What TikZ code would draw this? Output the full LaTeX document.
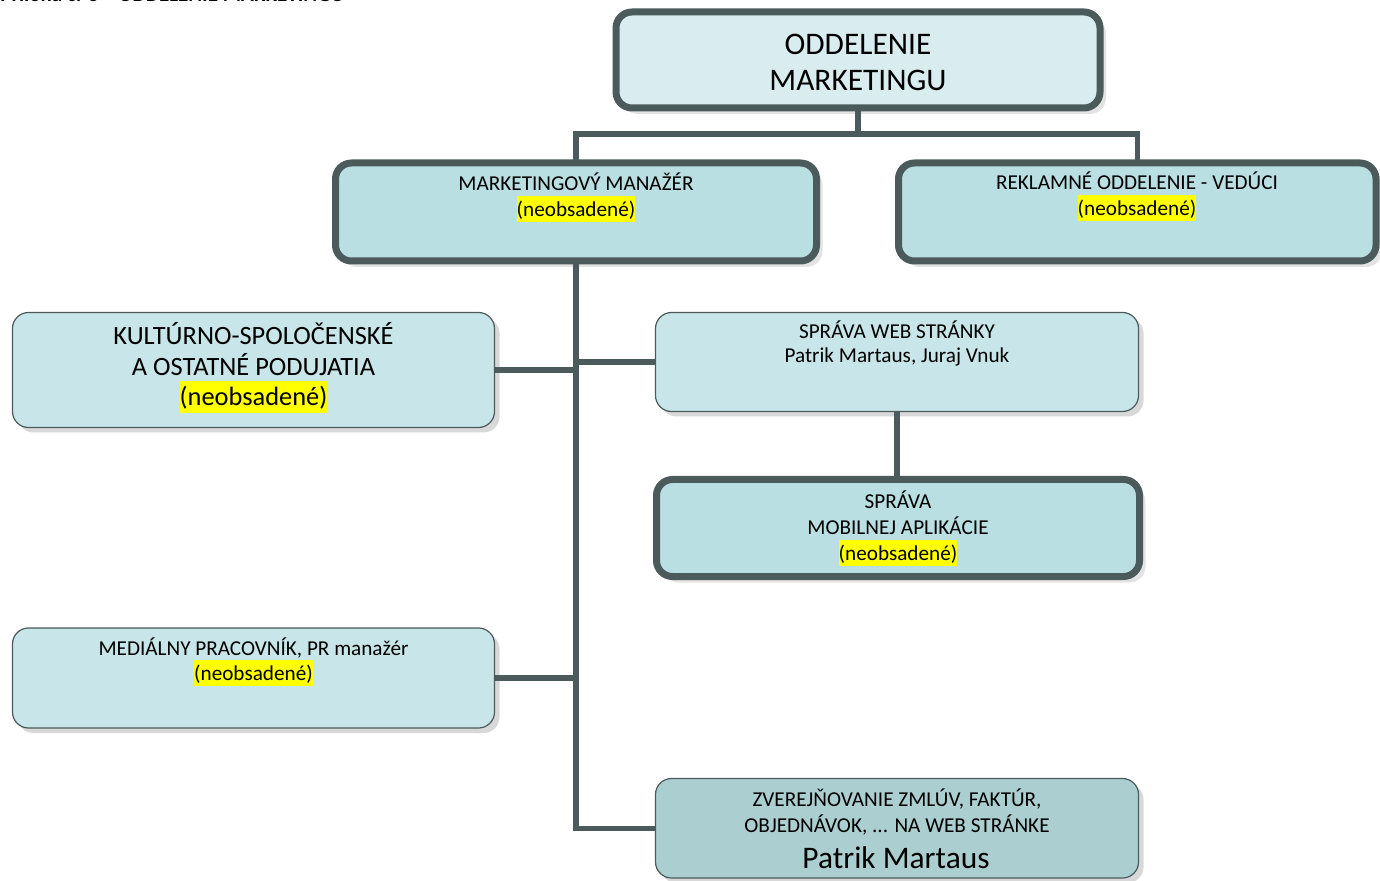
\documentclass[tikz,border=0pt]{standalone}
\usepackage{fontspec}
\setmainfont{Carlito}
\usetikzlibrary{shadows}
\definecolor{bord}{HTML}{4B5A5A}
\definecolor{fillTop}{HTML}{D9EDF0}
\definecolor{fillMain}{HTML}{B9DFE3}
\definecolor{fillThin}{HTML}{C8E6E9}
\definecolor{fillDark}{HTML}{ABCFD1}
\definecolor{hlyellow}{HTML}{FFFF00}
\newcommand\hlt[1]{{\setlength\fboxsep{0pt}\colorbox{hlyellow}{\rule[-0.28em]{0pt}{1.23em}#1}}}
\tikzset{
  box/.style={draw=bord, outer sep=0pt, inner sep=0pt},
  heavybox/.style={box, line width=3.5pt, rounded corners=8pt,
    drop shadow={shadow xshift=3pt, shadow yshift=-3pt, fill=black!22}},
  lightbox/.style={box, line width=0.6pt, rounded corners=8pt,
    drop shadow={shadow xshift=2.5pt, shadow yshift=-2.5pt, fill=black!30}},
  conn/.style={draw=bord, line width=2.6pt, line join=miter},
  lbl/.style={align=center, inner sep=0pt, anchor=base, text=black},
  small/.style={font=\fontsize{10.6}{13}\selectfont},
}
\begin{document}
\begin{tikzpicture}[x=0.5pt, y=-0.5pt]
\useasboundingbox (0,0) rectangle (1380,881);
\clip (0,0) rectangle (1380,881);

% title (cut off at top)
\node[anchor=base west, inner sep=0pt, font=\bfseries\fontsize{10.5}{12}\selectfont] (title) at (0,2) {Príloha č. 3 – ODDELENIE MARKETINGU};

% boxes
\node[heavybox, fill=fillTop, minimum width=242pt, minimum height=48pt] (top) at (858,60) {};
\node[heavybox, fill=fillMain, minimum width=240.5pt, minimum height=49pt] (mm) at (576,212) {};
\node[heavybox, fill=fillMain, minimum width=238.75pt, minimum height=49pt] (rek) at (1137.25,212) {};
\node[lightbox, fill=fillThin, minimum width=241pt, minimum height=57.5pt] (kult) at (253.5,370) {};
\node[lightbox, fill=fillThin, minimum width=241.5pt, minimum height=49.5pt] (web) at (897,362) {};
\node[heavybox, fill=fillMain, minimum width=241.5pt, minimum height=48.5pt] (mob) at (898,528) {};
\node[lightbox, fill=fillThin, minimum width=241pt, minimum height=50pt] (med) at (253.5,678) {};
\node[lightbox, fill=fillDark, minimum width=241.5pt, minimum height=49.75pt] (zv) at (897,828.25) {};

% labels (anchor = baseline of the last line)
\node[lbl, font=\fontsize{15.7}{17.9}\selectfont] (toplbl) at (858,90.5) {ODDELENIE\\MARKETINGU};
\node[lbl, small] (mmlbl) at (576,216.5) {MARKETINGOVÝ MANAŽÉR\\\hlt{(neobsadené)}};
\node[lbl, small] (reklbl) at (1137,215.5) {REKLAMNÉ ODDELENIE - VEDÚCI\\\hlt{(neobsadené)}};
\node[lbl, font=\fontsize{13.2}{15.3}\selectfont] (kultlbl) at (253.5,406) {KULTÚRNO-SPOLOČENSKÉ\\A OSTATNÉ PODUJATIA\\\hlt{(neobsadené)}};
\node[lbl, font=\fontsize{10.6}{12}\selectfont] (weblbl) at (897,363) {SPRÁVA WEB STRÁNKY\\Patrik Martaus, Juraj Vnuk};
\node[lbl, small] (moblbl) at (898,560) {SPRÁVA\\MOBILNEJ APLIKÁCIE\\\hlt{(neobsadené)}};
\node[lbl, font=\fontsize{10.6}{12.5}\selectfont] (medlbl) at (253.5,680) {MEDIÁLNY PRACOVNÍK, PR manažér\\\hlt{(neobsadené)}};
\node[lbl, font=\fontsize{10.6}{13}\selectfont] (zvlbl) at (897,832) {ZVEREJŇOVANIE ZMLÚV, FAKTÚR,\\OBJEDNÁVOK, ... NA WEB STRÁNKE};
\node[lbl, font=\fontsize{15.7}{18}\selectfont] (zvname) at (896,868) {Patrik Martaus};

% connectors
\coordinate (bus) at (0,134);
\draw[conn] (top.south) -- (top.south |- bus);
\draw[conn] (mm.north) |- (rek.north |- bus) -- (rek.north);
\draw[conn] (mm.south) |- (zv.west);
\draw[conn] (kult.east) -- (kult.east -| mm.south);
\draw[conn] (web.west) -- (web.west -| mm.south);
\draw[conn] (med.east) -- (med.east -| mm.south);
\draw[conn] (web.south) -- (web.south |- mob.north);
\end{tikzpicture}
\end{document}
